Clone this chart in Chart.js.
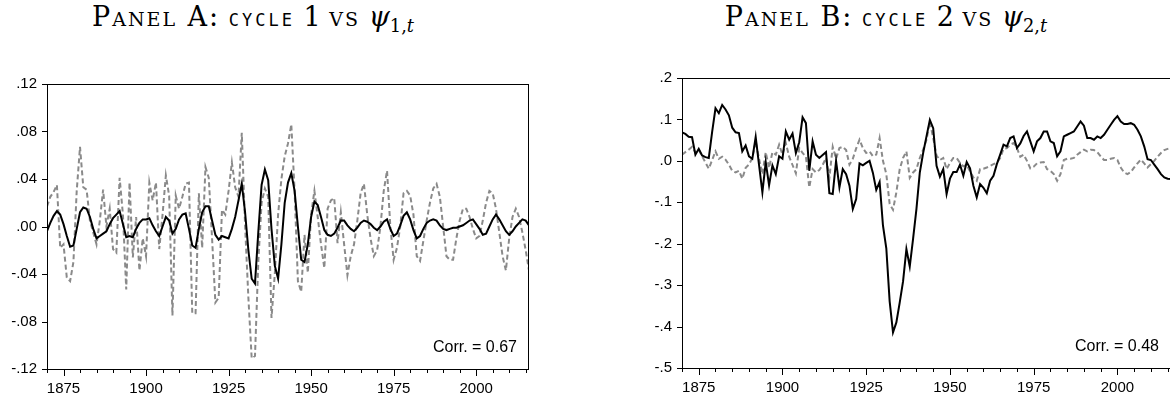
<!DOCTYPE html>
<html>
<head>
<meta charset="utf-8">
<script src="https://cdn.jsdelivr.net/npm/chart.js@4.4.0/dist/chart.umd.min.js"></script>
<style>
html, body { margin: 0; padding: 0; background: #fff; }
body { width: 1170px; height: 400px; overflow: hidden; position: relative; }
.ptitle { position: absolute; top: -1px; white-space: nowrap; font-family: "DejaVu Serif", serif; font-size: 27px; line-height: 36px; color: #000; transform: translateX(-50%); }
.sc { font-variant: small-caps; letter-spacing: 2px; }
.tt { font-family: "DejaVu Sans Mono", monospace; font-variant: small-caps; font-size: 0.92em; letter-spacing: 3px; }
.ptitle sub { font-size: 0.66em; }
.box { position: absolute; }
</style>
</head>
<body>

<div class="ptitle" style="left:253px"><span class="sc">Panel A:</span> <span class="tt">cycle</span> 1 <span class="sc">vs</span> <i>ψ</i><sub>1,<i>t</i></sub></div>
<div class="ptitle" style="left:886px"><span class="sc">Panel B:</span> <span class="tt">cycle</span> 2 <span class="sc">vs</span> <i>ψ</i><sub>2,<i>t</i></sub></div>

<div class="box" style="left:0px; top:70px; width:545px; height:330px;"><canvas id="panelA"></canvas></div>
<div class="box" style="left:600px; top:64px; width:580px; height:336px;"><canvas id="panelB"></canvas></div>

<script>
// years 1870 - 2016
const years = [];
for (let y = 1870; y <= 2016; y++) years.push(y);

// Panel A: cycle 1 (solid) and psi_1,t (dashed)
const cycle1 = [
  -0.004, 0.003, 0.009, 0.013, 0.010, 0.002, -0.008, -0.017, -0.016, -0.002,
  0.012, 0.016, 0.015, 0.008, -0.002, -0.010, -0.008, -0.006, -0.004, 0.002,
  0.007, 0.010, 0.013, 0.002, -0.009, -0.008, -0.009, -0.002, 0.003, 0.006,
  0.006, 0.007, 0.001, -0.004, -0.008, 0.000, 0.008, 0.005, -0.006, -0.002,
  0.006, 0.010, 0.011, -0.002, -0.016, -0.018, -0.002, 0.012, 0.017, 0.017,
  0.005, -0.007, -0.011, -0.008, -0.009, -0.010, -0.002, 0.008, 0.022, 0.036,
  0.012, -0.020, -0.044, -0.048, -0.005, 0.035, 0.048, 0.039, -0.002, -0.033,
  -0.044, -0.015, 0.020, 0.037, 0.045, 0.030, 0.000, -0.028, -0.030, -0.015,
  0.008, 0.021, 0.018, 0.008, -0.003, -0.007, -0.008, -0.006, -0.001, 0.005,
  0.005, 0.001, -0.002, -0.004, -0.001, 0.003, 0.005, 0.004, 0.002, -0.001,
  -0.003, 0.000, 0.004, 0.006, -0.002, -0.008, -0.006, 0.001, 0.009, 0.012,
  0.006, -0.003, -0.010, -0.008, -0.002, 0.003, 0.005, 0.006, 0.005, 0.001,
  -0.002, -0.003, -0.002, -0.001, -0.001, 0.000, 0.001, 0.003, 0.005, 0.006,
  0.002, -0.002, -0.007, -0.006, 0.000, 0.006, 0.010, 0.006, 0.001, -0.004,
  -0.007, -0.004, 0.000, 0.003, 0.006, 0.005, 0.001
];
const psi1 = [
  0.017, 0.025, 0.029, 0.035, -0.018, -0.015, -0.043, -0.046, -0.030, 0.030,
  0.067, 0.033, 0.031, 0.005, -0.005, -0.015, 0.005, 0.031, 0.000, 0.015,
  -0.019, -0.022, 0.041, 0.010, -0.053, 0.037, -0.026, 0.008, -0.037, -0.010,
  -0.025, 0.037, 0.022, 0.037, -0.019, 0.010, 0.043, 0.026, -0.075, 0.026,
  0.015, 0.025, 0.036, 0.037, -0.073, -0.073, 0.028, -0.018, 0.050, 0.041,
  -0.010, -0.064, -0.060, 0.014, 0.010, 0.030, 0.054, 0.033, 0.025, 0.079,
  0.001, -0.060, -0.111, -0.109, -0.030, 0.020, 0.032, 0.025, -0.077, -0.040,
  0.010, 0.040, 0.059, 0.070, 0.086, 0.030, -0.046, -0.055, -0.007, -0.039,
  0.010, 0.030, 0.008, -0.015, -0.035, 0.015, 0.022, 0.024, -0.014, 0.012,
  -0.015, -0.041, -0.025, -0.015, 0.005, 0.028, 0.036, 0.010, -0.010, -0.025,
  -0.020, 0.000, 0.030, 0.047, 0.000, -0.028, -0.018, 0.000, 0.028, 0.030,
  0.026, 0.010, -0.025, -0.029, -0.012, 0.005, 0.020, 0.032, 0.036, 0.025,
  0.000, -0.025, -0.028, -0.028, -0.010, 0.005, 0.015, 0.015, 0.008, -0.002,
  -0.010, -0.008, 0.005, 0.020, 0.030, 0.028, 0.015, -0.005, -0.025, -0.037,
  -0.010, 0.008, 0.015, 0.008, -0.005, -0.020, -0.037
];

// Panel B: cycle 2 (solid) and psi_2,t (dashed)
const cycle2 = [
  0.069, 0.065, 0.058, 0.057, 0.015, 0.029, 0.013, 0.009, 0.007, 0.070,
  0.127, 0.115, 0.135, 0.124, 0.110, 0.080, 0.069, 0.067, 0.023, 0.037,
  0.011, 0.005, 0.058, -0.010, -0.076, -0.003, -0.059, -0.011, -0.032, 0.011,
  0.005, 0.071, 0.051, 0.066, 0.019, 0.045, 0.105, 0.091, -0.024, 0.047,
  0.015, 0.007, 0.014, 0.021, -0.078, -0.080, 0.000, -0.064, -0.020, -0.032,
  -0.060, -0.116, -0.092, -0.006, -0.011, -0.005, 0.000, -0.029, -0.070, -0.051,
  -0.156, -0.211, -0.339, -0.414, -0.390, -0.342, -0.291, -0.213, -0.255, -0.188,
  -0.116, -0.028, 0.019, 0.059, 0.099, 0.079, -0.012, -0.038, -0.020, -0.080,
  -0.043, -0.027, -0.027, -0.009, -0.036, -0.003, -0.018, -0.060, -0.088, -0.056,
  -0.065, -0.078, -0.048, -0.036, -0.008, 0.015, 0.039, 0.035, 0.055, 0.059,
  0.031, 0.042, 0.060, 0.071, 0.047, 0.023, 0.047, 0.055, 0.071, 0.071,
  0.047, 0.043, 0.011, 0.023, 0.059, 0.063, 0.067, 0.071, 0.083, 0.095,
  0.085, 0.055, 0.055, 0.051, 0.059, 0.055, 0.063, 0.075, 0.087, 0.099,
  0.108, 0.095, 0.089, 0.089, 0.091, 0.087, 0.075, 0.059, 0.035, 0.004,
  0.002, -0.009, -0.020, -0.032, -0.040, -0.043, -0.044
];
const psi2 = [
  0.015, 0.021, 0.027, 0.034, 0.020, 0.027, 0.011, -0.004, -0.019, 0.002,
  0.023, 0.005, 0.010, 0.003, -0.009, -0.024, -0.028, -0.024, -0.043, -0.017,
  -0.009, 0.007, 0.047, 0.005, -0.032, 0.021, -0.017, 0.021, 0.015, 0.039,
  0.015, 0.043, 0.010, -0.010, -0.030, 0.031, 0.019, 0.010, -0.064, -0.020,
  -0.028, -0.022, -0.010, 0.007, -0.041, 0.034, 0.005, 0.031, 0.034, 0.026,
  -0.009, 0.005, 0.030, 0.051, 0.031, 0.019, 0.023, 0.011, 0.015, 0.055,
  0.000, -0.032, -0.104, -0.118, -0.076, -0.020, 0.007, 0.023, -0.041, -0.028,
  -0.020, 0.007, 0.027, 0.051, 0.095, 0.055, 0.013, 0.002, 0.007, -0.020,
  -0.005, 0.007, 0.007, -0.005, -0.013, -0.010, -0.025, -0.040, -0.048, -0.020,
  -0.019, -0.016, -0.012, -0.008, -0.004, 0.007, 0.029, 0.031, 0.039, 0.043,
  0.031, 0.010, 0.015, 0.000, -0.018, -0.014, -0.006, -0.004, -0.003, -0.020,
  -0.024, -0.032, -0.048, -0.032, 0.002, 0.005, 0.005, 0.007, 0.015, 0.021,
  0.027, 0.023, 0.027, 0.026, 0.021, 0.011, 0.002, 0.002, 0.005, 0.007,
  0.002, -0.016, -0.028, -0.032, -0.027, -0.016, -0.006, 0.003, -0.006, -0.016,
  -0.008, 0.000, 0.010, 0.019, 0.026, 0.029, 0.031
];

const tickFont = { family: '"Liberation Sans", Arial, sans-serif', size: 15 };

// box round the plot area, outward tick marks and the correlation note
const framePlugin = {
  id: 'frame',
  afterDraw(chart, args, opts) {
    const { ctx, chartArea: a, scales } = chart;
    ctx.save();
    ctx.strokeStyle = '#000';
    ctx.lineWidth = 1;
    ctx.strokeRect(a.left + 0.5, a.top + 0.5, a.right - a.left - 1, a.bottom - a.top);
    ctx.beginPath();
    scales.x.ticks.forEach(t => {
      const px = Math.round(scales.x.getPixelForValue(t.value)) + 0.5;
      const len = t.value % 25 === 0 ? 7 : 4;
      ctx.moveTo(px, a.bottom);
      ctx.lineTo(px, a.bottom + len);
    });
    scales.y.ticks.forEach(t => {
      const py = Math.round(scales.y.getPixelForValue(t.value)) + 0.5;
      ctx.moveTo(a.left - 5, py);
      ctx.lineTo(a.left, py);
    });
    ctx.stroke();
    ctx.fillStyle = '#000';
    ctx.font = '16px "Liberation Sans", Arial, sans-serif';
    ctx.textAlign = 'right';
    ctx.textBaseline = 'alphabetic';
    ctx.fillText(opts.text, a.right - 12, a.bottom - 17);
    ctx.restore();
  }
};

function fmtY(v, dec) {
  const s = Math.abs(v).toFixed(dec).replace(/^0/, '');
  return (v < -1e-9 ? '-' : '') + s;
}

function makePanel(id, solid, dashed, yMin, yMax, yStep, dec, axisW, axisH, pad, corr) {
  new Chart(document.getElementById(id), {
    type: 'line',
    data: {
      labels: years,
      datasets: [
        { data: solid, borderColor: '#000', borderWidth: 2, pointRadius: 0, tension: 0, fill: false },
        { data: dashed, borderColor: '#8a8a8a', borderWidth: 2, borderDash: [5, 3], pointRadius: 0, tension: 0, fill: false }
      ]
    },
    options: {
      responsive: true,
      maintainAspectRatio: false,
      animation: false,
      events: [],
      layout: { padding: pad },
      plugins: { legend: { display: false }, tooltip: { enabled: false }, frame: { text: corr } },
      scales: {
        x: {
          type: 'linear',
          min: 1870,
          max: 2016,
          border: { display: false },
          grid: { display: false, drawTicks: true, tickLength: 7 },
          ticks: {
            stepSize: 5,
            includeBounds: false,
            autoSkip: false,
            maxRotation: 0,
            padding: 4,
            color: '#000',
            font: tickFont,
            callback: v => (v % 25 === 0 ? String(v) : '')
          },
          afterFit: s => { s.height = axisH; }
        },
        y: {
          min: yMin,
          max: yMax,
          border: { display: false },
          grid: { display: false, drawTicks: true, tickLength: 5 },
          ticks: { stepSize: yStep, padding: 5, color: '#000', font: tickFont, callback: v => fmtY(v, dec) },
          afterFit: s => { s.width = axisW; }
        }
      }
    },
    plugins: [framePlugin]
  });
}

makePanel('panelA', cycle1, psi1, -0.12, 0.12, 0.04, 2, 47, 31, { top: 10, right: 16, left: 0, bottom: 0 }, 'Corr. = 0.67');
makePanel('panelB', cycle2, psi2, -0.5, 0.2, 0.1, 1, 82, 32, { top: 10, right: 9, left: 0, bottom: 0 }, 'Corr. = 0.48');
</script>
</body>
</html>
